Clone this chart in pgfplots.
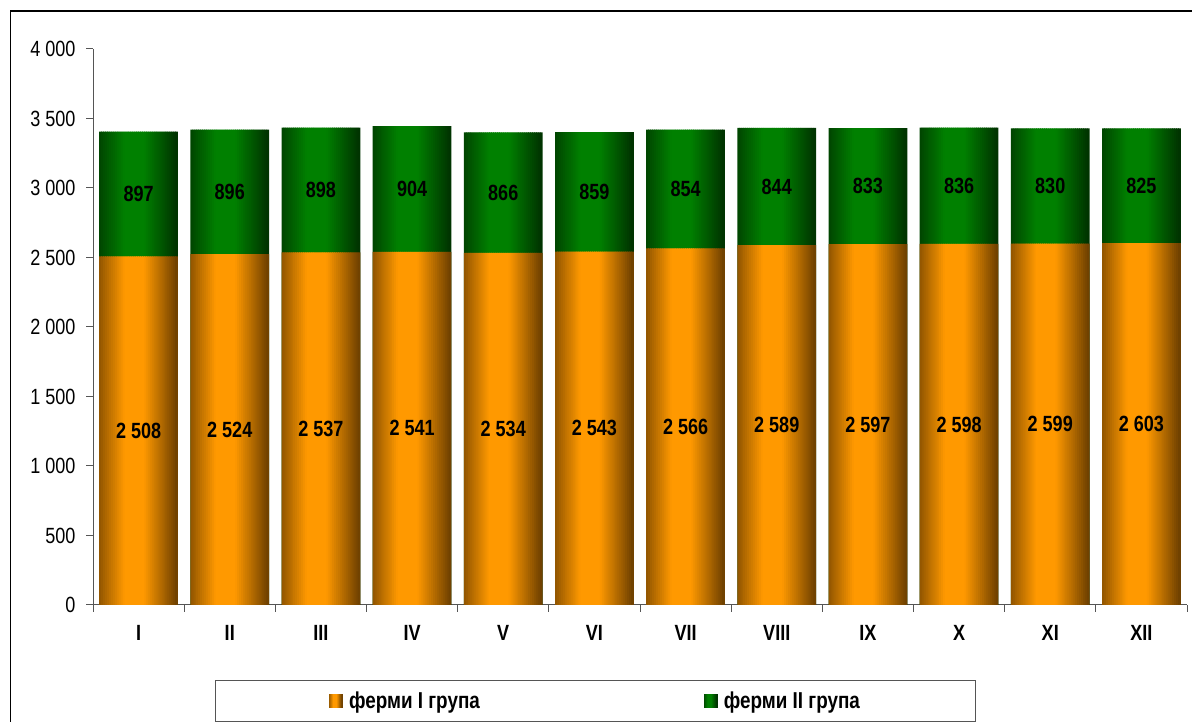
\documentclass[border=0pt]{standalone}
\usepackage{pgfplots}
\pgfplotsset{compat=1.18}
\usepackage{pgfplotstable}
\usepackage{fontspec}
\setmainfont{Liberation Sans}
\newfontfamily\narrow[FakeStretch=0.82]{Liberation Sans}

\definecolor{orC}{HTML}{FF9900}
\definecolor{orE}{HTML}{6E4000}
\definecolor{grC}{HTML}{008000}
\definecolor{grE}{HTML}{003200}
\definecolor{axisgray}{HTML}{555555}

\pgfplotsset{/pgf/number format/1000 sep={\ }}

% month, farms group I, farms group II
\pgfplotstableread{
x a b
0 2508 897
1 2524 896
2 2537 898
3 2541 904
4 2534 866
5 2543 859
6 2566 854
7 2589 844
8 2597 833
9 2598 836
10 2599 830
11 2603 825
}\farms

% bars are painted as 40 thin strips to imitate the cylinder gradient
\foreach \k in {0,...,39}{
  \pgfmathsetmacro\tt{(\k+0.5)/40}
  \pgfmathtruncatemacro\p{min(100,max(0,130*(1-abs(\tt-0.45)/0.55)))}
  \xglobal\colorlet{or\k}{orC!\p!orE}
  \xglobal\colorlet{gr\k}{grC!\p!grE}
  \pgfmathsetmacro\s{-0.4275+(\k+0.5)*0.021375}
  \expandafter\xdef\csname bsh\k\endcsname{\s}
}

\pgfplotsset{
  strip legend/.style={legend image code/.code={%
    \foreach \k in {0,...,39}{%
      \fill[#1\k] ({\k*0.325pt},-6.5pt) rectangle ({(\k+1)*0.325pt+0.15pt},6.5pt);}
    \path (17pt,0pt);}},
  lab/.style={forget plot, draw=none, fill=none, bar shift=0, bar width=0.1,
    nodes near coords, point meta=explicit,
    every node near coord/.style={anchor=center,
      font=\narrow\bfseries\fontsize{22}{26}\selectfont, text=black}},
}

\begin{document}
\begin{tikzpicture}[x=1pt,y=1pt]
\path[use as bounding box] (0,0) rectangle (1192,722);
\draw[line width=1.5pt] (10.5,0) -- (10.5,711) -- (1192,711);
\begin{axis}[
  at={(93pt,117pt)}, anchor=south west,
  scale only axis, width=1094pt, height=556pt,
  ybar,
  xmin=-0.5, xmax=11.5, ymin=0, ymax=4000,
  axis x line*=bottom, axis y line*=left,
  axis line style={-, draw=axisgray, line width=1pt},
  xtick={-0.5,0.5,...,11.5}, x tick label as interval,
  xticklabels={I,II,III,IV,V,VI,VII,VIII,IX,X,XI,XII},
  ytick={0,500,...,4000},
  tick align=outside, major tick length=7pt,
  tick style={draw=axisgray, line width=1pt},
  /pgf/number format/assume math mode=true,
  yticklabel style={font=\narrow\fontsize{22}{26}\selectfont, xshift=-7pt},
  xticklabel style={font=\narrow\bfseries\fontsize{22}{26}\selectfont, yshift=-10pt},
  legend columns=2,
  legend style={at={(0.4593,-0.1727)}, anchor=center,
    draw=axisgray, line width=1pt, inner xsep=114pt, inner ysep=9pt,
    font=\narrow\bfseries\fontsize{23}{27}\selectfont,
    /tikz/every even column/.append style={column sep=222pt}},
]
% group II sits on top of group I: draw the full height first
\pgfplotsinvokeforeach{0,...,39}{
  \addplot[forget plot, draw=none, fill=gr#1, bar width=0.03,
    bar shift=\csname bsh#1\endcsname]
    table[x=x, y expr=\thisrow{a}+\thisrow{b}] {\farms};
}
\pgfplotsinvokeforeach{0,...,39}{
  \addplot[forget plot, draw=none, fill=or#1, bar width=0.03,
    bar shift=\csname bsh#1\endcsname]
    table[x=x, y=a] {\farms};
}
% value labels in the middle of each segment
\addplot[lab] table[x=x, y expr=\thisrow{a}/2, meta=a] {\farms};
\addplot[lab] table[x=x, y expr=\thisrow{a}+\thisrow{b}/2, meta=b] {\farms};
\addlegendimage{strip legend=or}
\addlegendentry{ферми I група}
\addlegendimage{strip legend=gr}
\addlegendentry{ферми II група}
\end{axis}
\end{tikzpicture}
\end{document}
